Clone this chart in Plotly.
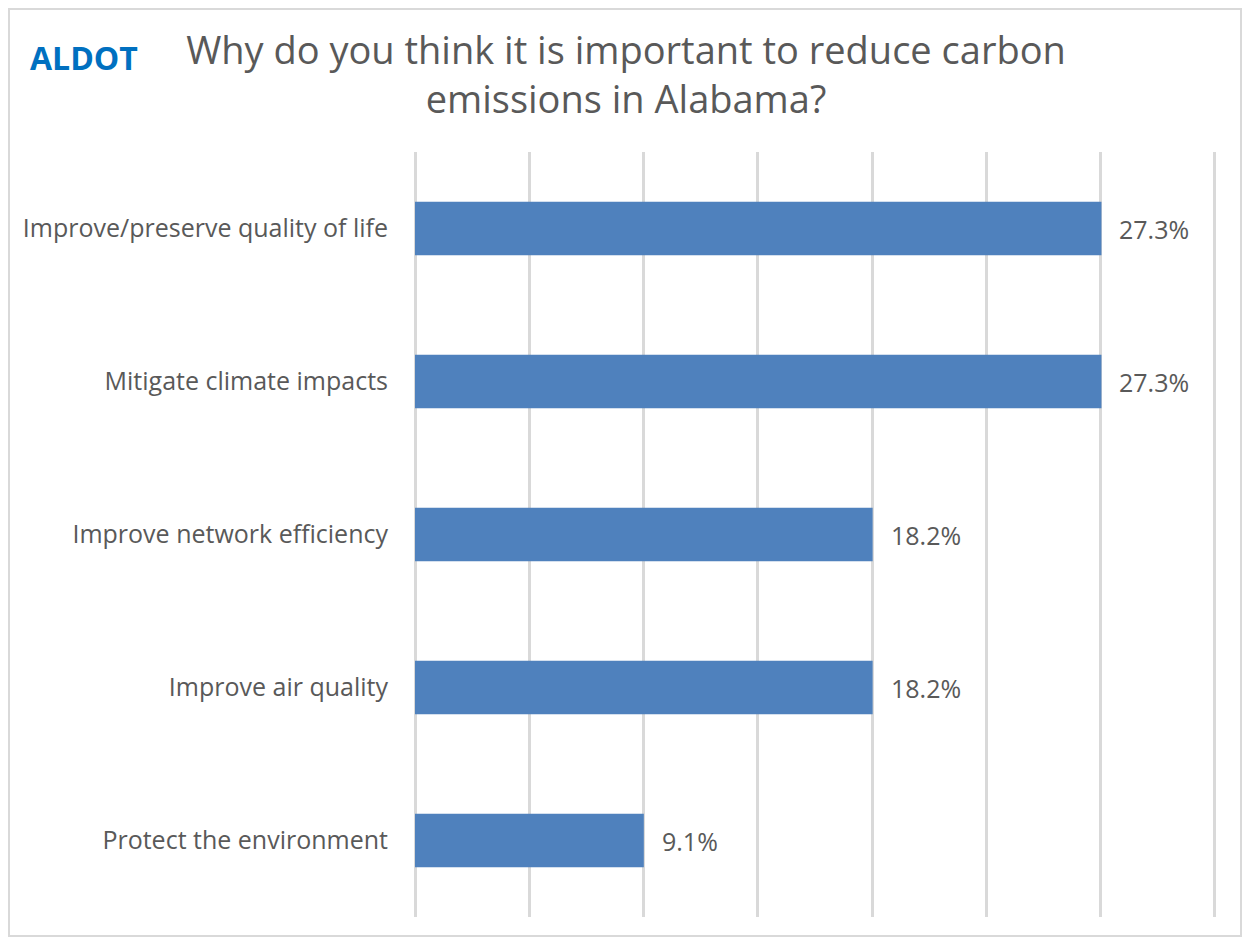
import plotly.graph_objects as go

# survey answers, top to bottom
reasons = ['Improve/preserve quality of life',
           'Mitigate climate impacts',
           'Improve network efficiency',
           'Improve air quality',
           'Protect the environment']
shares = [27.3, 27.3, 18.2, 18.2, 9.1]
share_labels = ['27.3%', '27.3%', '18.2%', '18.2%', '9.1%']

bar_color = '#4f81bd'
grid_color = '#d9d9d9'
text_color = '#595959'

# page body adds an 8px margin, so the figure is drawn 8px smaller/shifted
OFF = 8
W, H = 1250 - 2 * OFF, 945 - 2 * OFF
# plot area runs 2px past the last gridline so it is not clipped
margin = dict(l=415 - OFF, r=W - (1217 - OFF), t=152 - OFF, b=H - (917 - OFF))


def px_x(p):
    # screen pixel column -> paper x
    return (p - OFF - margin['l']) / (W - margin['l'] - margin['r'])


def px_y(p):
    # screen pixel row -> paper y
    return (H - margin['b'] - (p - OFF)) / (H - margin['t'] - margin['b'])


fig = go.Figure(go.Bar(
    x=shares,
    y=reasons,
    orientation='h',
    marker=dict(color=bar_color, line=dict(width=0)),
    hoverinfo='skip'))

for val, cat, lab in zip(shares, reasons, share_labels):
    fig.add_annotation(x=val, y=cat, text=lab, showarrow=False,
                       xanchor='left', xshift=16,
                       font=dict(family='Open Sans', size=25, color=text_color))

fig.update_layout(
    width=W, height=H,
    margin=margin,
    paper_bgcolor='white',
    plot_bgcolor='white',
    bargap=0.65,
    showlegend=False,
    title=dict(text='Why do you think it is important to reduce carbon<br>emissions in Alabama?',
               x=(626 - OFF) / W, xanchor='center', y=1 - (64 - OFF) / H, yanchor='middle',
               xref='container', yref='container',
               font=dict(family='Open Sans', size=38, color=text_color)),
    xaxis=dict(range=[0, 31.895], dtick=4.545, tick0=0,
               showticklabels=False, showgrid=True, gridcolor=grid_color,
               gridwidth=3, zeroline=True, zerolinecolor=grid_color,
               zerolinewidth=3, showline=False, fixedrange=True),
    yaxis=dict(autorange='reversed', showgrid=False, showline=False,
               ticks='', ticklabelstandoff=26,
               tickfont=dict(family='Open Sans', size=25, color=text_color)),
)

fig.add_annotation(text='<b>ALDOT</b>', xref='paper', yref='paper',
                   x=px_x(28), y=px_y(57), xanchor='left', yanchor='middle',
                   showarrow=False,
                   font=dict(family='Open Sans', size=32, color='#0070c0'))

# outer frame of the slide chart
fig.add_shape(type='rect', xref='paper', yref='paper',
              x0=px_x(OFF + 1), x1=px_x(1250 - OFF - 1),
              y0=px_y(945 - OFF - 1), y1=px_y(OFF + 1),
              line=dict(color='#d9d9d9', width=2), layer='below')

fig.write_html('out.html')
